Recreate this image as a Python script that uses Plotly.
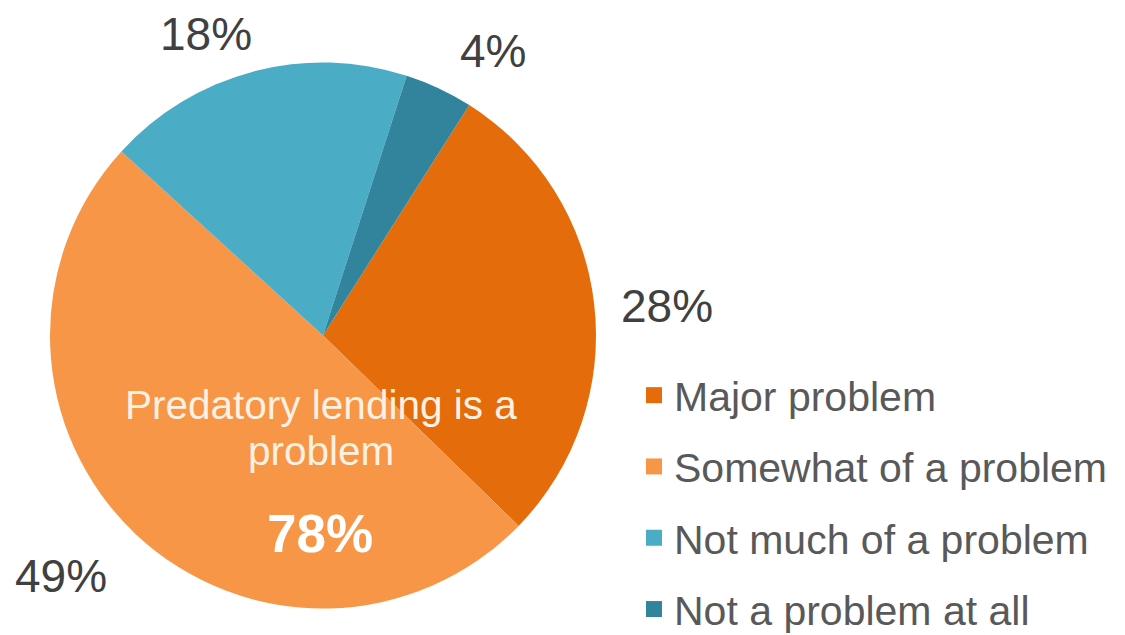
import plotly.graph_objects as go

categories = ["Major problem", "Somewhat of a problem", "Not much of a problem", "Not a problem at all"]
values = [28, 49, 18, 4]
colors = ["#E46C0A", "#F79646", "#4BACC6", "#31849B"]
pct_labels = ["28%", "49%", "18%", "4%"]
center_title_lines = ["Predatory lending is a", "problem"]
center_value = "78%"

FONT = "Liberation Sans, Arial, sans-serif"
PAGE_OFF = 8                      # default body margin of the html page
W, H = 1125 - PAGE_OFF, 635 - PAGE_OFF


def fx(px):
    return (px - PAGE_OFF) / W


def fy(py):
    return 1 - (py - PAGE_OFF) / H


fig = go.Figure()

fig.add_trace(go.Pie(
    labels=categories,
    values=values,
    marker=dict(colors=colors, line=dict(width=0)),
    sort=False,
    direction="clockwise",
    rotation=32.4,
    textinfo="none",
    hoverinfo="label+percent",
    showlegend=False,
    domain=dict(x=[fx(50), fx(596)], y=[fy(608.5), fy(62.5)]),
))

# legend proxies (square markers) so legend spacing matches reference
for i, (cat, col) in enumerate(zip(categories, colors)):
    fig.add_trace(go.Scatter(
        x=[None], y=[None], mode="markers", name=cat,
        marker=dict(symbol="square", size=16, color=col),
        legendgroup=f"g{i}", showlegend=True, hoverinfo="skip",
    ))

# outside percentage labels (positions as in reference)
label_pos = [(667, 306), (61, 576), (206, 34), (493, 51)]
for txt, (px, py) in zip(pct_labels, label_pos):
    fig.add_annotation(x=fx(px), y=fy(py), xref="paper", yref="paper",
                       text=txt, showarrow=False, xanchor="center", yanchor="middle",
                       font=dict(family=FONT, size=46, color="#404040"))

for line, py in zip(center_title_lines, [404.5, 450.5]):
    fig.add_annotation(x=fx(321), y=fy(py), xref="paper", yref="paper",
                       text=line, showarrow=False, xanchor="center", yanchor="middle",
                       font=dict(family=FONT, size=40.5, color="#FDF1E4"))
fig.add_annotation(x=fx(320), y=fy(533), xref="paper", yref="paper",
                   text=f"<b>{center_value}</b>", showarrow=False, xanchor="center", yanchor="middle",
                   font=dict(family=FONT, size=53, color="#FFFFFF"))

fig.update_layout(
    width=W, height=H,
    margin=dict(l=0, r=0, t=0, b=0, autoexpand=False),
    paper_bgcolor="white", plot_bgcolor="white",
    xaxis=dict(visible=False), yaxis=dict(visible=False),
    legend=dict(x=fx(634), y=fy(362), xanchor="left", yanchor="top",
                font=dict(family=FONT, size=41, color="#595959"),
                tracegroupgap=15, bgcolor="rgba(0,0,0,0)", borderwidth=0,
                itemclick=False, itemdoubleclick=False),
    showlegend=True,
)

fig.write_html("out.html")
